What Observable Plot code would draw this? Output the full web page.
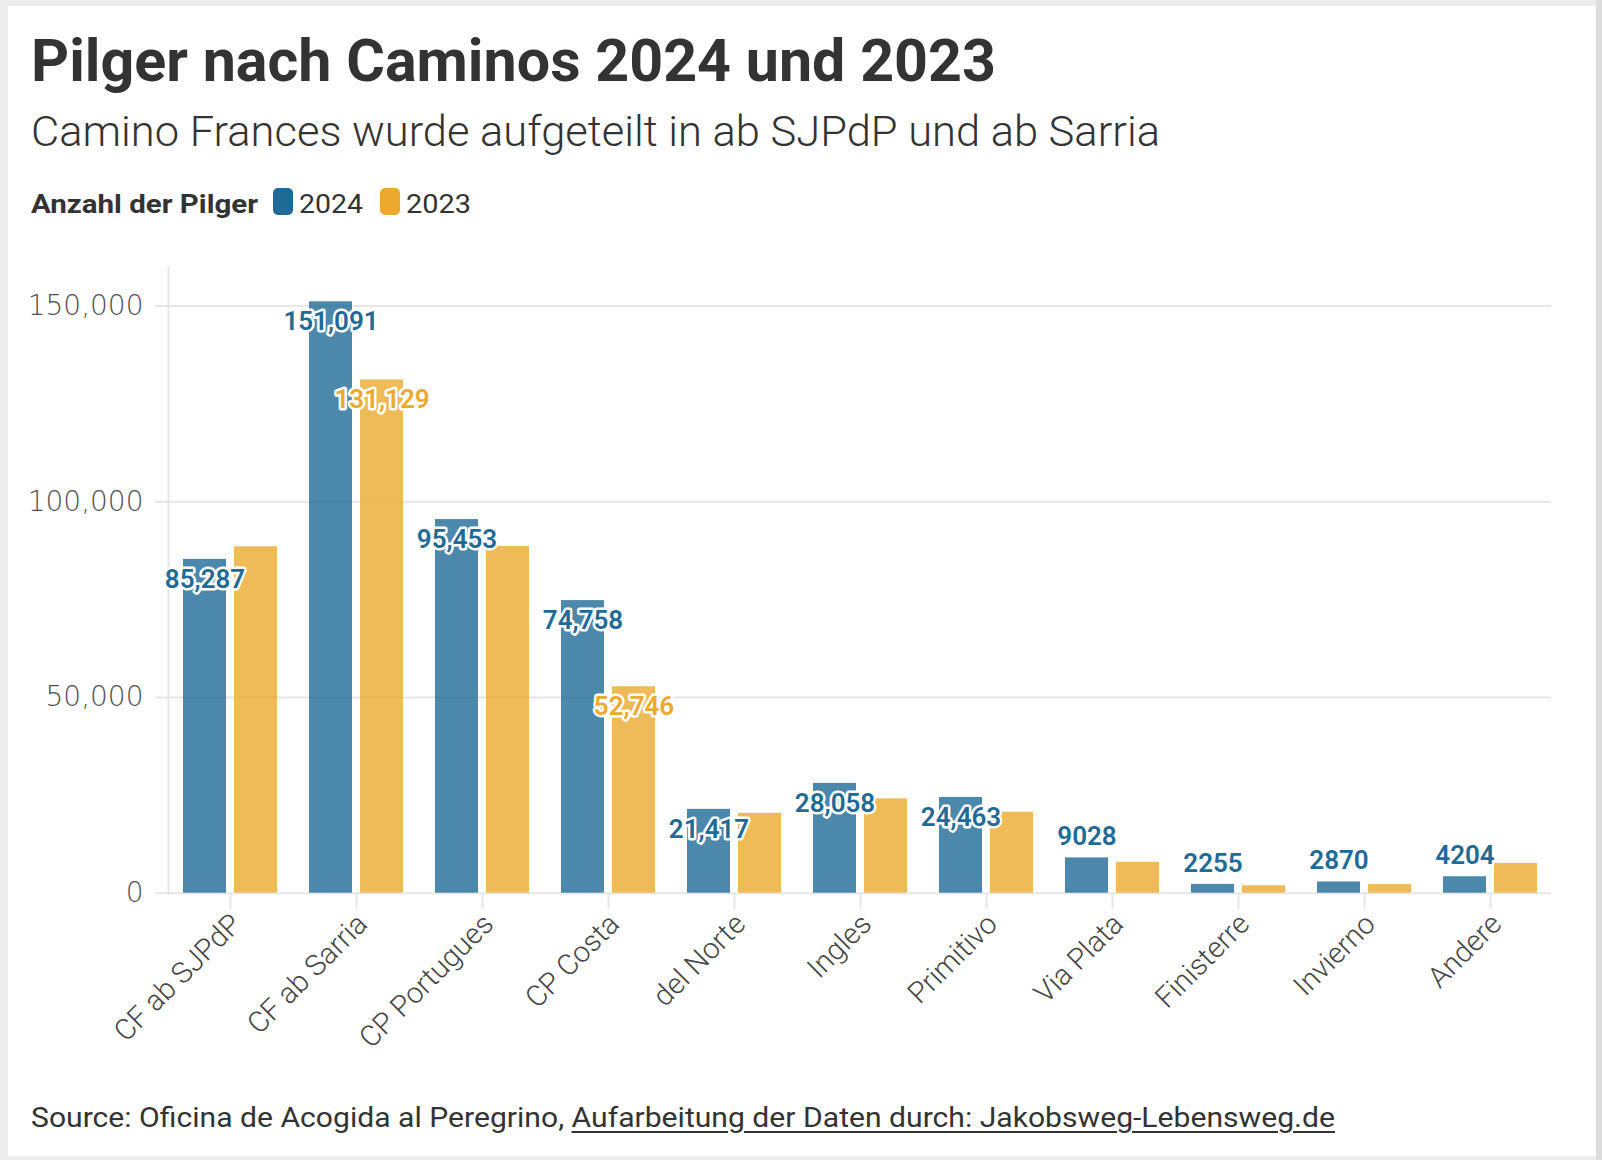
<!DOCTYPE html>
<html><head><meta charset="utf-8">
<script src="https://cdn.jsdelivr.net/npm/d3@7"></script>
<script src="https://cdn.jsdelivr.net/npm/@observablehq/plot@0.6"></script>
<style>
html,body{margin:0;padding:0;}
body{width:1602px;height:1160px;background:#ececec;position:relative;overflow:hidden;font-family:Roboto,sans-serif;color:#333;}
#card{position:absolute;left:8px;top:6px;width:1588px;height:1150px;background:#fff;}
#rightbar{position:absolute;left:1596px;top:0;width:6px;height:1160px;background:#dcdcdc;}
#chart{position:absolute;left:0;top:0;}
.t{position:absolute;white-space:nowrap;line-height:1;transform-origin:0 50%;}
.sw{position:absolute;border-radius:5px;}
#chart text.halo{paint-order:stroke;}
</style></head>
<body>
<div id="card"></div><div id="rightbar"></div>
<div id="chart"></div>
<div class="t" id="title" style="left:31px;top:31px;font-size:60px;font-weight:700;color:#333;">Pilger nach Caminos 2024 und 2023</div>
<div class="t" id="subtitle" style="left:31px;top:110px;font-size:43px;font-weight:300;color:#333;">Camino Frances wurde aufgeteilt in ab SJPdP und ab Sarria</div>
<div class="t" id="legtitle" style="left:31px;top:191px;font-size:26px;font-weight:700;color:#333;">Anzahl der Pilger</div>
<div class="sw" style="left:273px;top:188px;width:20px;height:27px;background:#1f6a96;"></div>
<div class="t" id="leg1" style="left:299px;top:191px;font-size:26px;font-weight:400;color:#333;">2024</div>
<div class="sw" style="left:380px;top:188px;width:20px;height:27px;background:#ebaa2e;"></div>
<div class="t" id="leg2" style="left:406px;top:191px;font-size:26px;font-weight:400;color:#333;">2023</div>
<div class="t" id="footer" style="left:31px;top:1104px;font-size:28px;font-weight:400;color:#333;">Source: Oficina de Acogida al Peregrino, <span style="text-decoration:underline;text-underline-offset:4px;">Aufarbeitung der Daten durch: Jakobsweg-Lebensweg.de</span></div>
<script>
const categories = ["CF ab SJPdP","CF ab Sarria","CP Portugues","CP Costa","del Norte","Ingles","Primitivo","Via Plata","Finisterre","Invierno","Andere"];
const pilger2024 = [85287,151091,95453,74758,21417,28058,24463,9028,2255,2870,4204];
const pilger2023 = [88500,131129,88600,52746,20400,24100,20700,7900,1900,2200,7600];
const labeled2023 = ["CF ab Sarria","CP Costa"];
const yTicks = [0,50000,100000,150000];

const data = categories.map((c,i)=>({cat:c, v2024:pilger2024[i], v2023:pilger2023[i]}));
const fmt = v => v >= 10000 ? d3.format(",")(v) : String(v);
const BLUE = "#1f6a96", YEL = "#ebaa2e";
const GRID = "#e6e6e6";
const insideMin = 15000;

const labelOpts = {textAnchor:"middle", fontSize:26, fontWeight:600, stroke:"white", strokeWidth:5, strokeLinejoin:"round", paintOrder:"stroke", className:"halo"};

const chart = Plot.plot({
  width:1602, height:1160,
  marginLeft:168, marginRight:51, marginTop:267.6, marginBottom:267.3,
  style:{background:"transparent", fontFamily:"Roboto, sans-serif"},
  x:{type:"band", domain:categories, paddingInner:0.257, paddingOuter:0.095, label:null},
  y:{domain:[0,159700], label:null},
  marks:[
    Plot.gridY(yTicks, {stroke:GRID, strokeOpacity:1, strokeWidth:2}),
    Plot.frame({anchor:"left", stroke:GRID, strokeWidth:2}),
    Plot.axisY(yTicks, {tickSize:13, tickPadding:12, stroke:GRID, strokeWidth:2, fill:"#505050", fontSize:28, fontWeight:300, fontFamily:"DejaVu Sans", tickFormat:d3.format(","), label:null}),
    Plot.axisX({tickSize:16, stroke:GRID, strokeWidth:2, tickFormat:()=>"", label:null}),
    Plot.axisX({tickRotate:-45, tickSize:0, tickPadding:26, dx:6, fill:"#444", fontSize:29, fontWeight:300, label:null}),
    Plot.barY(data, {x:"cat", y:"v2024", fill:BLUE, fillOpacity:0.8, insetRight:51}),
    Plot.barY(data, {x:"cat", y:"v2023", fill:YEL, fillOpacity:0.8, insetLeft:51}),
    Plot.text(data.filter(d=>d.v2024>=insideMin), {x:"cat", y:"v2024", text:d=>fmt(d.v2024), dx:-25.5, dy:20, fill:BLUE, ...labelOpts}),
    Plot.text(data.filter(d=>d.v2024<insideMin), {x:"cat", y:"v2024", text:d=>fmt(d.v2024), dx:-25.5, dy:-21, fill:BLUE, ...labelOpts}),
    Plot.text(data.filter(d=>labeled2023.includes(d.cat)), {x:"cat", y:"v2023", text:d=>fmt(d.v2023), dx:25.5, dy:20, fill:YEL, ...labelOpts})
  ]
});
document.getElementById("chart").appendChild(chart);

function fit(id, target){
  const el = document.getElementById(id);
  const w = el.getBoundingClientRect().width;
  el.style.transform = `scaleX(${target/w})`;
}
document.fonts.ready.then(()=>{
  fit("title", 965);
  fit("subtitle", 1129);
  fit("legtitle", 227);
  fit("leg1", 64);
  fit("leg2", 65);
  fit("footer", 1304);
});
</script>
</body></html>
